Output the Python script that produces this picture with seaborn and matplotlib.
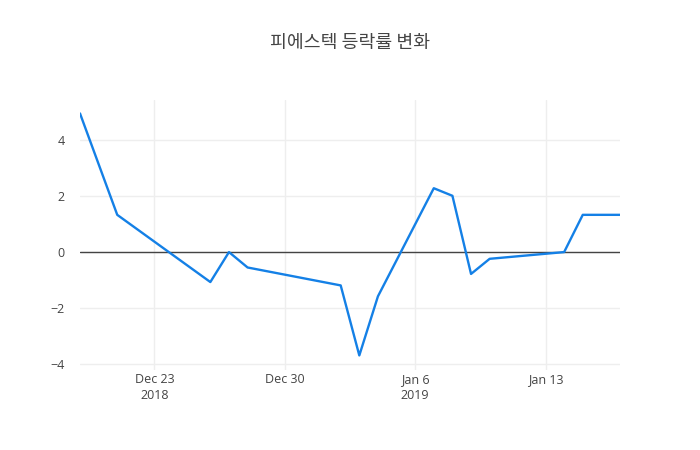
import matplotlib
matplotlib.use("Agg")
import matplotlib.pyplot as plt
import matplotlib.dates as mdates
import seaborn as sns
import pandas as pd

dates = ["2018-12-19", "2018-12-21", "2018-12-26", "2018-12-27", "2018-12-28",
         "2019-01-02", "2019-01-03", "2019-01-04", "2019-01-07", "2019-01-08",
         "2019-01-09", "2019-01-10", "2019-01-14", "2019-01-15", "2019-01-17"]
rates = [4.95, 1.33, -1.07, 0.0, -0.55,
         -1.19, -3.69, -1.58, 2.28, 2.01,
         -0.78, -0.24, 0.0, 1.33, 1.33]
tick_dates = ["2018-12-23", "2018-12-30", "2019-01-06", "2019-01-13"]
tick_labels = ["Dec 23\n2018", "Dec 30", "Jan 6\n2019", "Jan 13"]
y_ticks = [-4, -2, 0, 2, 4]
title = "피에스텍 등락률 변화"

df = pd.DataFrame({"date": pd.to_datetime(dates), "rate": rates})

sns.set_theme(style="white")
plt.rcParams['font.family'] = ['Open Sans', 'Noto Sans CJK KR', 'DejaVu Sans']
plt.rcParams['axes.unicode_minus'] = True

fig = plt.figure(figsize=(7, 4.5), dpi=100)
ax = fig.add_axes([80/700, 80/450, 540/700, 270/450])

ax.grid(True, color="#eeeeee", linewidth=1)
ax.set_axisbelow(True)
ax.axhline(0, color="#444444", linewidth=1, zorder=2)
sns.lineplot(data=df, x="date", y="rate", ax=ax, color="#1480e6", linewidth=1.7, zorder=3)

ax.set_xlim(df["date"].min(), df["date"].max())
ax.set_ylim(-4.21, 5.43)
ax.set_xticks(pd.to_datetime(tick_dates))
ax.set_xticklabels(tick_labels)
ax.set_yticks(y_ticks)
ax.set_yticklabels([str(v).replace("-", "\u2212") for v in y_ticks])
ax.tick_params(axis="both", length=0, labelsize=9, colors="#444444")
ax.tick_params(axis="x", pad=2)
ax.tick_params(axis="y", pad=11)
for lbl in ax.get_xticklabels():
    lbl.set_linespacing(1.3)
for s in ax.spines.values():
    s.set_visible(False)
ax.set_xlabel("")
ax.set_ylabel("")

fig.text(0.5, 1 - 43/450, title, ha="center", va="center", fontsize=13.2, color="#444444",
         family=['Noto Sans CJK KR', 'DejaVu Sans'])

fig.savefig("out.png", dpi=100)
